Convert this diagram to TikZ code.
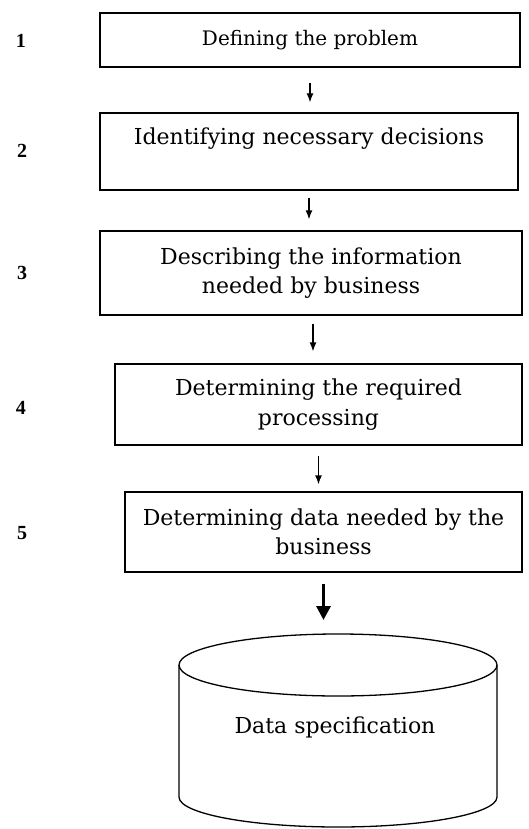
\documentclass[tikz,border=0pt]{standalone}
\usepackage{fontspec}
\setmainfont{DejaVu Serif}
\newfontfamily\numfont{Liberation Serif}
\usetikzlibrary{arrows.meta, positioning, calc}

\begin{document}
\begin{tikzpicture}[x=1pt, y=1pt]
        % --- Styles ---
        \tikzstyle{stepbox}=[draw, line width=1.3pt, rectangle, align=center, inner sep=0pt, font=\fontsize{22}{29.5}\selectfont]
        \tikzstyle{numlabel}=[font=\numfont\bfseries\fontsize{20}{22}\selectfont]
        \tikzstyle{flow}=[-{Latex[length=9pt, width=7pt]}, line width=1.3pt]
        \tikzstyle{bigflow}=[-{Triangle[length=14pt, width=14pt]}, line width=3.2pt]

        \useasboundingbox (0,0) rectangle (529,-829);

        % --- 1. Steps ---
        \node[stepbox, minimum width=420, minimum height=54, font=\fontsize{20}{24}\selectfont] (b1) at (310,-40) {Defining the problem};
        \node[stepbox, minimum width=418, minimum height=77, text depth=30pt] (b2) at (309,-151.5) {Identifying necessary decisions};
        \node[stepbox, minimum width=422, minimum height=84] (b3) at (311,-273) {Describing the information\\needed by business};
        \node[stepbox, minimum width=407, minimum height=81] (b4) at (318.5,-404.5) {Determining the required\\processing};
        \node[stepbox, minimum width=397, minimum height=80] (b5) at (323.5,-532) {Determining data needed by the\\business};

        % --- 2. Step numbers ---
        \node[numlabel] (n1) at (21,-41) {1};
        \node[numlabel] (n2) at (22,-151) {2};
        \node[numlabel] (n3) at (22,-273) {3};
        \node[numlabel] (n4) at (21,-408) {4};
        \node[numlabel] (n5) at (22,-533) {5};

        % --- 3. Data store ---
        \draw[line width=1.3pt, fill=white] (179,-665) -- (179,-797) arc[start angle=180, end angle=360, x radius=159, y radius=30] -- (497,-665);
        \draw[line width=1.3pt] (338,-665) ellipse [x radius=159, y radius=31];
        \node[font=\fontsize{22}{24}\selectfont] (db) at (335,-727) {Data specification};
        \coordinate (dbtop) at (338,-634);

        % --- 4. Arrows ---
        \draw[flow, shorten <=15pt, shorten >=10pt] (b1.south) -- (b1.south |- b2.north);
        \draw[flow, shorten <=7pt, shorten >=11pt] (b2.south) -- (b2.south |- b3.north);
        \draw[flow, shorten <=8pt, shorten >=12pt] ([xshift=2pt]b3.south) -- ([xshift=2pt]b3.south |- b4.north);
        \draw[flow, shorten <=10pt, shorten >=7pt] (b4.south) -- (b4.south |- b5.north);
        \draw[bigflow, shorten <=11pt, shorten >=14pt] (b5.south) -- (b5.south |- dbtop);

\end{tikzpicture}
\end{document}
